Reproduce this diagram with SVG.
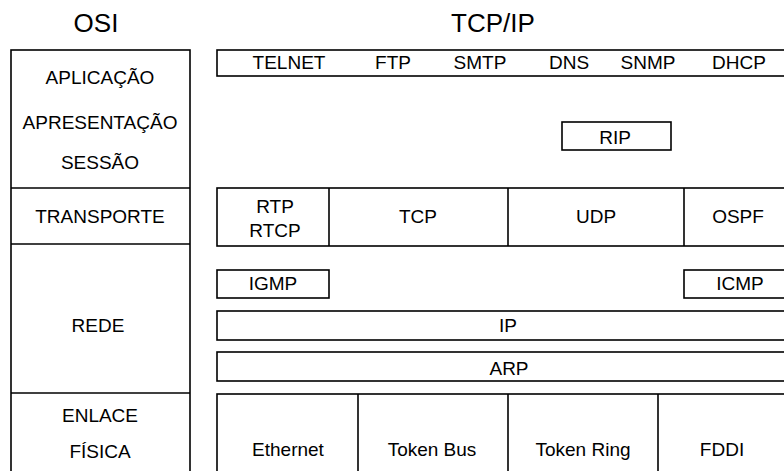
<svg xmlns="http://www.w3.org/2000/svg" width="784" height="471" viewBox="0 0 784 471">
<style>
.b{fill:none;stroke:#000;stroke-width:1.6}
.t{font-family:"Liberation Sans",Arial,sans-serif;font-size:19px;fill:#000;text-anchor:middle}
.h{font-family:"Liberation Sans",Arial,sans-serif;font-size:26px;fill:#000;text-anchor:middle}
</style>
<rect width="784" height="471" fill="#fff"/>
<text class="h" x="96" y="32">OSI</text>
<text class="h" x="493" y="32">TCP/IP</text>
<g id="osi">
<rect class="b" x="11" y="50" width="179" height="440"/>
<line class="b" x1="11" y1="188" x2="190" y2="188"/>
<line class="b" x1="11" y1="244" x2="190" y2="244"/>
<line class="b" x1="11" y1="393" x2="190" y2="393"/>
<text class="t" x="100" y="84">APLICAÇÃO</text>
<text class="t" x="100" y="129">APRESENTAÇÃO</text>
<text class="t" x="100" y="169">SESSÃO</text>
<text class="t" x="100" y="223">TRANSPORTE</text>
<text class="t" x="98" y="332">REDE</text>
<text class="t" x="100" y="422">ENLACE</text>
<text class="t" x="100" y="458">FÍSICA</text>
</g>
<g id="app">
<rect class="b" x="217" y="50" width="590" height="26"/>
<text class="t" x="289" y="69">TELNET</text>
<text class="t" x="393" y="69">FTP</text>
<text class="t" x="480" y="69">SMTP</text>
<text class="t" x="569" y="69">DNS</text>
<text class="t" x="648" y="69">SNMP</text>
<text class="t" x="739" y="69">DHCP</text>
</g>
<g id="rip">
<rect class="b" x="562" y="122" width="109" height="28"/>
<text class="t" x="615" y="144">RIP</text>
</g>
<g id="transport">
<rect class="b" x="217" y="188" width="590" height="58"/>
<line class="b" x1="329" y1="188" x2="329" y2="246"/>
<line class="b" x1="508" y1="188" x2="508" y2="246"/>
<line class="b" x1="684" y1="188" x2="684" y2="246"/>
<text class="t" x="275" y="213">RTP</text>
<text class="t" x="275" y="237">RTCP</text>
<text class="t" x="418" y="223">TCP</text>
<text class="t" x="596" y="223">UDP</text>
<text class="t" x="738" y="223">OSPF</text>
</g>
<g id="igmp">
<rect class="b" x="217" y="270" width="112" height="28"/>
<text class="t" x="273" y="290">IGMP</text>
</g>
<g id="icmp">
<rect class="b" x="684" y="270" width="120" height="28"/>
<text class="t" x="740" y="290">ICMP</text>
</g>
<g id="ip">
<rect class="b" x="217" y="311" width="590" height="29"/>
<text class="t" x="508" y="332">IP</text>
</g>
<g id="arp">
<rect class="b" x="217" y="352" width="590" height="29"/>
<text class="t" x="509" y="375">ARP</text>
</g>
<g id="link">
<rect class="b" x="217" y="394" width="590" height="96"/>
<line class="b" x1="358" y1="394" x2="358" y2="471"/>
<line class="b" x1="508" y1="394" x2="508" y2="471"/>
<line class="b" x1="658" y1="394" x2="658" y2="471"/>
<text class="t" x="288" y="456">Ethernet</text>
<text class="t" x="432" y="456">Token Bus</text>
<text class="t" x="583" y="456">Token Ring</text>
<text class="t" x="722" y="456">FDDI</text>
</g>
<g id="connectors"/>
</svg>
